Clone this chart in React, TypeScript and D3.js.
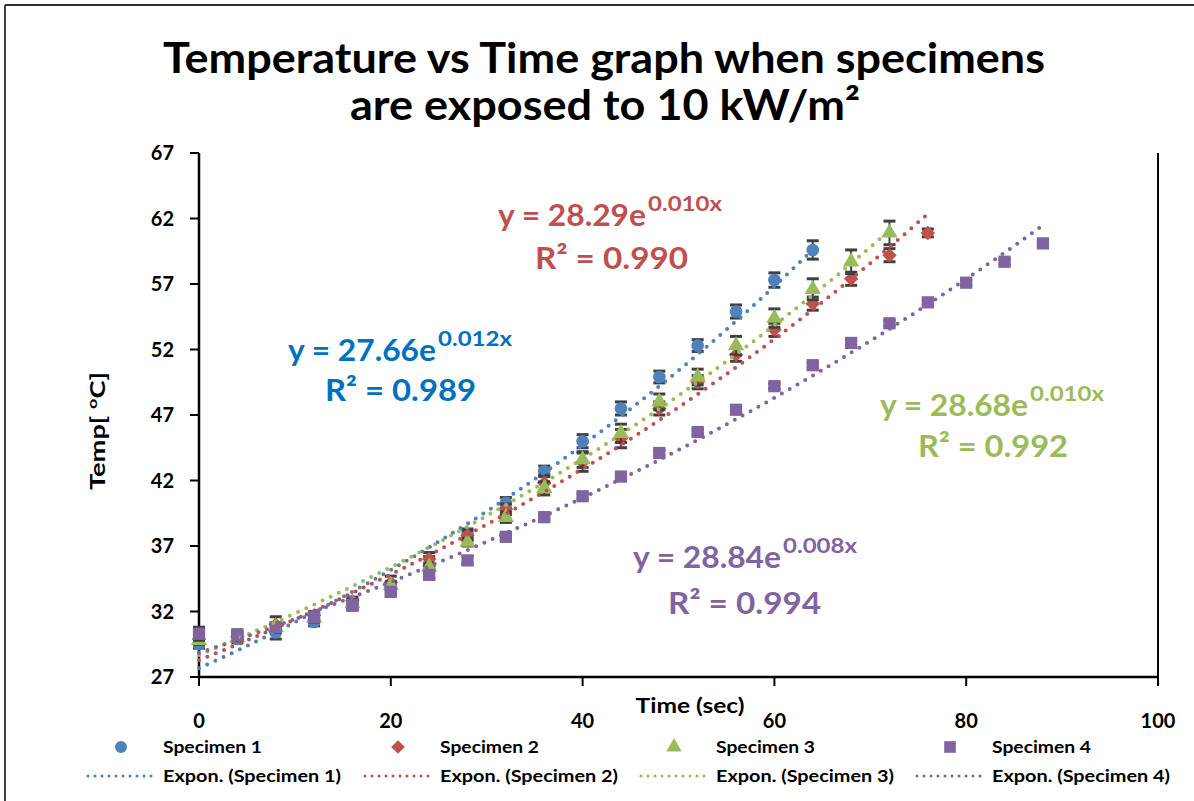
import React from 'react';
import * as d3 from 'd3';

// ---------- data ----------
const time = [0, 4, 8, 12, 16, 20, 24, 28, 32, 36, 40, 44, 48, 52, 56, 60, 64, 68, 72, 76, 80, 84, 88];
const seriesNames = ['Specimen 1', 'Specimen 2', 'Specimen 3', 'Specimen 4'];
const spec1 = [29.5, 29.9, 30.4, 31.2, 32.5, 33.8, 35.4, 37.9, 40.3, 42.7, 45.0, 47.5, 49.9, 52.3, 54.9, 57.3, 59.6];
const spec2 = [29.9, 30.1, 31.0, 31.7, 32.8, 34.2, 36.0, 37.8, 39.8, 41.8, 43.4, 45.2, 47.5, 49.5, 51.6, 53.5, 55.5, 57.4, 59.2, 60.9];
const spec3 = [29.8, 30.0, 30.8, 31.5, 32.6, 34.0, 35.4, 37.3, 39.2, 41.4, 43.6, 45.6, 48.0, 49.9, 52.3, 54.4, 56.6, 58.7, 60.9];
const spec4 = [30.3, 30.2, 30.8, 31.6, 32.5, 33.5, 34.8, 35.9, 37.7, 39.2, 40.8, 42.3, 44.1, 45.7, 47.4, 49.2, 50.8, 52.5, 54.0, 55.6, 57.1, 58.7, 60.1];
const err1 = [0.3, 0.3, 0.5, 0.3, 0.3, 0.3, 0.8, 0.4, 0.4, 0.4, 0.5, 0.5, 0.45, 0.45, 0.5, 0.55, 0.7];
const err2 = [0.3, 0.3, 0.6, 0.3, 0.3, 0.5, 0.5, 0.4, 0.4, 0.6, 0.7, 0.7, 0.5, 0.5, 0.5, 0.5, 0.5, 0.5, 0.5, 0.3];
const err3 = [0.3, 0.3, 0.3, 0.3, 0.3, 0.3, 0.3, 0.3, 0.4, 0.5, 0.6, 0.7, 0.6, 0.6, 0.7, 0.7, 0.8, 0.9, 0.9];
const err4 = [0.5, 0.4, 0.3, 0.3, 0.4, 0.3, 0.3, 0.3, 0.3, 0.2, 0.2, 0.2, 0.2, 0.2, 0.2, 0.2, 0.2, 0.2, 0.2, 0.2, 0.2, 0.2, 0.2];
const trendA = [27.66, 28.29, 28.68, 28.84];
const trendB = [0.012, 0.0104, 0.0105, 0.0086];
const eqMain = ['y = 27.66e', 'y = 28.29e', 'y = 28.68e', 'y = 28.84e'];
const eqExp = ['0.012x', '0.010x', '0.010x', '0.008x'];
const r2Text = ['R\u00B2 = 0.989', 'R\u00B2 = 0.990', 'R\u00B2 = 0.992', 'R\u00B2 = 0.994'];
const xTicks = [0, 20, 40, 60, 80, 100];
const yTicks = [27, 32, 37, 42, 47, 52, 57, 62, 67];

// ---------- styles / layout ----------
const markerColors = ['#4F81BD', '#C0504D', '#9BBB59', '#8064A2'];
const eqColors = ['#0070C0', '#C0504D', '#9BBB59', '#8064A2'];
const shapes = ['circle', 'diamond', 'triangle', 'square'];
const FONT = "Lato, 'Liberation Sans', Arial, sans-serif";
const eqLayout = [
  { x: 288, w: 148, sx: 438, sw: 74, y: 361, rx: 325, rw: 151, ry: 401 },
  { x: 498, w: 148, sx: 648, sw: 74, y: 226, rx: 535, rw: 153, ry: 269 },
  { x: 880, w: 148, sx: 1030, sw: 74, y: 416, rx: 918, rw: 150, ry: 457 },
  { x: 633, w: 148, sx: 783, sw: 74, y: 568, rx: 668, rw: 153, ry: 614 },
];
const legendX = [163, 440, 716, 992];

function symbolPath(shape: string, scale = 1): string {
  if (shape === 'circle') return d3.symbol(d3.symbolCircle, 125 * scale)() as string;
  if (shape === 'diamond') return d3.symbol(d3.symbolSquare, 105 * scale)() as string;
  if (shape === 'triangle') return d3.symbol(d3.symbolTriangle, 115 * scale)() as string;
  return d3.symbol(d3.symbolSquare, 150 * scale)() as string;
}

export default function App() {
  const x = d3.scaleLinear().domain([0, 100]).range([199, 1158]);
  const y = d3.scaleLinear().domain([27, 67]).range([677, 153]);
  const values = [spec1, spec2, spec3, spec4];
  const errs = [err1, err2, err3, err4];

  const line = d3
    .line<[number, number]>()
    .x((d) => x(d[0]))
    .y((d) => y(d[1]));

  const trendPaths = values.map((v, i) => {
    const tMax = time[v.length - 1];
    const pts: [number, number][] = d3
      .range(0, tMax + 0.001, 0.5)
      .map((t) => [t, trendA[i] * Math.exp(trendB[i] * t)]);
    return line(pts) as string;
  });

  return (
    <svg
      width={1194}
      height={801}
      style={{ position: 'absolute', left: 0, top: 0, background: '#fff' }}
      fontFamily={FONT}
    >
      <rect x={0} y={0} width={1194} height={801} fill="#fff" />
      {/* chart frame */}
      <line x1={5} y1={5} x2={1194} y2={5} stroke="#303030" strokeWidth={1.8} />
      <line x1={5} y1={5} x2={5} y2={801} stroke="#303030" strokeWidth={1.8} />

      {/* title */}
      <text x={604} y={73} textAnchor="middle" fontSize={42} fontWeight="bold" fill="#000"
        textLength={882} lengthAdjust="spacingAndGlyphs">
        Temperature vs Time graph when specimens
      </text>
      <text x={605} y={120} textAnchor="middle" fontSize={42} fontWeight="bold" fill="#000"
        textLength={510} lengthAdjust="spacingAndGlyphs">
        are exposed to 10 kW/m{'\u00B2'}
      </text>

      {/* axes */}
      <line x1={x(0)} y1={y(67)} x2={x(0)} y2={y(27)} stroke="#000" strokeWidth={2.5} />
      <line x1={x(0)} y1={y(27)} x2={x(100)} y2={y(27)} stroke="#000" strokeWidth={2.5} />
      <line x1={x(100)} y1={y(67)} x2={x(100)} y2={y(27)} stroke="#000" strokeWidth={2} />
      {yTicks.map((t) => (
        <g key={'yt' + t}>
          <line x1={x(0) - 9} x2={x(0)} y1={y(t)} y2={y(t)} stroke="#000" strokeWidth={2} />
          <text x={174} y={y(t) + 7} textAnchor="end" fontSize={20} fontWeight="bold">
            {t}
          </text>
        </g>
      ))}
      {xTicks.map((t) => (
        <g key={'xt' + t}>
          <line x1={x(t)} x2={x(t)} y1={y(27)} y2={y(27) + 9} stroke="#000" strokeWidth={2} />
          <text x={x(t)} y={728} textAnchor="middle" fontSize={20} fontWeight="bold">
            {t}
          </text>
        </g>
      ))}
      <text x={690} y={713} textAnchor="middle" fontSize={20} fontWeight="bold"
        textLength={109} lengthAdjust="spacingAndGlyphs">
        Time (sec)
      </text>
      <text transform="translate(105,431) rotate(-90)" textAnchor="middle" fontSize={21} fontWeight="bold"
        textLength={118} lengthAdjust="spacingAndGlyphs">
        Temp[ <tspan fontSize={14} dy={-8}>o</tspan>
        <tspan dy={8}>C]</tspan>
      </text>

      {/* error bars and markers */}
      {values.map((v, i) => (
        <g key={'s' + i}>
          {v.map((val, j) => {
            const cx = x(time[j]);
            const e = errs[i][j];
            return (
              <g key={'e' + j} stroke="#404040">
                <line x1={cx} x2={cx} y1={y(val - e)} y2={y(val + e)} strokeWidth={2} />
                <line x1={cx - 6} x2={cx + 6} y1={y(val - e)} y2={y(val - e)} strokeWidth={3} />
                <line x1={cx - 6} x2={cx + 6} y1={y(val + e)} y2={y(val + e)} strokeWidth={3} />
              </g>
            );
          })}
          {v.map((val, j) => (
            <path
              key={'m' + j}
              d={symbolPath(shapes[i])}
              transform={`translate(${x(time[j])},${y(val)})${shapes[i] === 'diamond' ? ' rotate(45)' : ''}`}
              fill={markerColors[i]}
            />
          ))}
        </g>
      ))}

      {/* trend lines */}
      {trendPaths.map((d, i) => (
        <path key={'tr' + i} d={d} fill="none" stroke={markerColors[i]} strokeWidth={4}
          strokeDasharray="0 9" strokeLinecap="round" />
      ))}

      {/* equations */}
      {eqLayout.map((p, i) => (
        <g key={'eq' + i} fill={eqColors[i]} fontWeight="bold">
          <text x={p.x} y={p.y} fontSize={31} textLength={p.w} lengthAdjust="spacingAndGlyphs">
            {eqMain[i]}
          </text>
          <text x={p.sx} y={p.y - 15} fontSize={20} textLength={p.sw} lengthAdjust="spacingAndGlyphs">
            {eqExp[i]}
          </text>
          <text x={p.rx} y={p.ry} fontSize={31} textLength={p.rw} lengthAdjust="spacingAndGlyphs">
            {r2Text[i]}
          </text>
        </g>
      ))}

      {/* legend */}
      {seriesNames.map((n, i) => (
        <g key={'lg' + i} fontWeight="bold" fontSize={17}>
          <path
            d={symbolPath(shapes[i], 0.9)}
            transform={`translate(${legendX[i] - 42},747)${shapes[i] === 'diamond' ? ' rotate(45)' : ''}`}
            fill={markerColors[i]}
          />
          <text x={legendX[i]} y={753} textLength={99} lengthAdjust="spacingAndGlyphs">
            {n}
          </text>
          <line x1={legendX[i] - 75} x2={legendX[i] - 6} y1={776} y2={776} stroke={markerColors[i]}
            strokeWidth={3} strokeDasharray="0 7" strokeLinecap="round" />
          <text x={legendX[i]} y={782} textLength={178} lengthAdjust="spacingAndGlyphs">
            {'Expon. (' + n + ')'}
          </text>
        </g>
      ))}
    </svg>
  );
}
